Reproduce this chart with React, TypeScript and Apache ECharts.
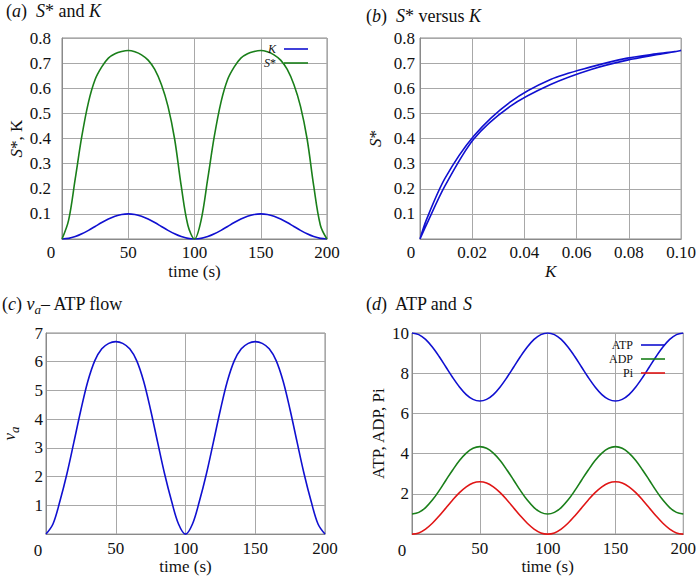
import React, { useEffect, useRef } from "react";
import * as echarts from "echarts";

// time axis (s)
const time = [0, 5, 10, 15, 20, 25, 30, 35, 40, 45, 50, 55, 60, 65, 70, 75, 80, 85, 90, 95, 100,
  105, 110, 115, 120, 125, 130, 135, 140, 145, 150, 155, 160, 165, 170, 175, 180, 185, 190, 195, 200];

// (a) K and S*
const kValues = [0, 0.0024, 0.0095, 0.0206, 0.0345, 0.05, 0.0655, 0.0794, 0.0905, 0.0976, 0.1,
  0.0976, 0.0905, 0.0794, 0.0655, 0.05, 0.0345, 0.0206, 0.0095, 0.0024, 0,
  0.0024, 0.0095, 0.0206, 0.0345, 0.05, 0.0655, 0.0794, 0.0905, 0.0976, 0.1,
  0.0976, 0.0905, 0.0794, 0.0655, 0.05, 0.0345, 0.0206, 0.0095, 0.0024, 0];
const sValues = [0, 0.075, 0.24, 0.41, 0.545, 0.635, 0.685, 0.72, 0.737, 0.746, 0.75,
  0.745, 0.733, 0.712, 0.675, 0.615, 0.528, 0.398, 0.21, 0.055, 0,
  0.075, 0.24, 0.41, 0.545, 0.635, 0.685, 0.72, 0.737, 0.746, 0.75,
  0.745, 0.733, 0.712, 0.675, 0.615, 0.528, 0.398, 0.21, 0.055, 0];

// (c) v_a
const vaValues = [0, 0.35, 1.15, 2.1, 3.2, 4.32, 5.32, 6.04, 6.45, 6.64, 6.7,
  6.64, 6.45, 6.04, 5.32, 4.32, 3.2, 2.1, 1.15, 0.35, 0,
  0.35, 1.15, 2.1, 3.2, 4.32, 5.32, 6.04, 6.45, 6.64, 6.7,
  6.64, 6.45, 6.04, 5.32, 4.32, 3.2, 2.1, 1.15, 0.35, 0];

// (d) ATP, ADP, Pi
const atpValues = [10, 9.92, 9.68, 9.3, 8.83, 8.31, 7.79, 7.32, 6.94, 6.7, 6.62,
  6.7, 6.94, 7.32, 7.79, 8.31, 8.83, 9.3, 9.68, 9.92, 10,
  9.92, 9.68, 9.3, 8.83, 8.31, 7.79, 7.32, 6.94, 6.7, 6.62,
  6.7, 6.94, 7.32, 7.79, 8.31, 8.83, 9.3, 9.68, 9.92, 10];
const adpValues = [1, 1.08, 1.32, 1.69, 2.16, 2.68, 3.19, 3.66, 4.03, 4.27, 4.35,
  4.27, 4.03, 3.66, 3.19, 2.68, 2.16, 1.69, 1.32, 1.08, 1,
  1.08, 1.32, 1.69, 2.16, 2.68, 3.19, 3.66, 4.03, 4.27, 4.35,
  4.27, 4.03, 3.66, 3.19, 2.68, 2.16, 1.69, 1.32, 1.08, 1];
const piValues = [0, 0.06, 0.25, 0.54, 0.9, 1.3, 1.7, 2.06, 2.35, 2.54, 2.6,
  2.54, 2.35, 2.06, 1.7, 1.3, 0.9, 0.54, 0.25, 0.06, 0,
  0.06, 0.25, 0.54, 0.9, 1.3, 1.7, 2.06, 2.35, 2.54, 2.6,
  2.54, 2.35, 2.06, 1.7, 1.3, 0.9, 0.54, 0.25, 0.06, 0];

const FONT = "Liberation Serif";
const INK = "#111";
const BLUE = "#1010d0";
const GREEN = "#1a7f1a";
const RED = "#e01515";
const GRID_COLOR = "#a8a8a8";
const BORDER = "#8a8a8a";
const LINE_ICON = "path://M0,0L30,0L30,2L0,2Z";

const AX = 17;
const TT = 18;
const LG = 12;
const axisRich = {
  n: { fontFamily: FONT, fontSize: AX, color: INK },
  i: { fontStyle: "italic", fontFamily: FONT, fontSize: AX, color: INK },
  sub: { fontStyle: "italic", fontFamily: FONT, fontSize: 13, color: INK, padding: [10, 0, 0, 0] },
};
const titleRich = {
  n: { fontFamily: FONT, fontSize: TT, color: INK },
  i: { fontStyle: "italic", fontFamily: FONT, fontSize: TT, color: INK },
  sub: { fontStyle: "italic", fontFamily: FONT, fontSize: 13, color: INK, padding: [10, 0, 0, 0] },
};
const legendRich = {
  n: { fontFamily: FONT, fontSize: LG, color: INK },
  i: { fontStyle: "italic", fontFamily: FONT, fontSize: LG, color: INK },
};

function xAxisCfg(grid: number, min: number, max: number, interval: number, name: string, nameGap: number, margin: number, dec: number) {
  return {
    type: "value", gridIndex: grid, min, max, interval,
    name, nameLocation: "middle", nameGap,
    nameTextStyle: { fontFamily: FONT, fontSize: AX, color: INK, rich: axisRich },
    axisLine: { show: true, lineStyle: { color: BORDER } },
    axisTick: { show: false },
    axisLabel: {
      margin, fontFamily: FONT, fontSize: AX, color: INK, rich: axisRich,
      formatter: (v: number) => (v === 0 ? "" : `{n|${v.toFixed(dec)}}`),
    },
    splitLine: { show: true, lineStyle: { color: GRID_COLOR, width: 1 } },
  };
}

function yAxisCfg(grid: number, min: number, max: number, interval: number, name: string, nameGap: number, margin: number, dec: number) {
  return {
    type: "value", gridIndex: grid, min, max, interval,
    name, nameLocation: "middle", nameGap, nameRotate: 90,
    nameTextStyle: { fontFamily: FONT, fontSize: AX, color: INK, rich: axisRich },
    axisLine: { show: true, lineStyle: { color: BORDER } },
    axisTick: { show: false },
    axisLabel: {
      margin, fontFamily: FONT, fontSize: AX, color: INK, rich: axisRich,
      formatter: (v: number) => (v === 0 ? "" : `{n|${v.toFixed(dec)}}`),
    },
    splitLine: { show: true, lineStyle: { color: GRID_COLOR, width: 1 } },
  };
}

function zip(a: number[], b: number[]) {
  return a.map((v, i) => [v, b[i]]);
}

function lineSeries(name: string, data: number[][], x: number, y: number, color: string, smooth: boolean | number = 0.35) {
  return {
    type: "line", name, data, xAxisIndex: x, yAxisIndex: y,
    smooth, symbol: "none", showSymbol: false,
    lineStyle: { color, width: 1.6 },
    itemStyle: { color },
  };
}

function titleText(x: number, y: number, text: string) {
  return {
    type: "text", left: x, top: y,
    style: { text, font: `${TT}px ${FONT}`, fill: INK, rich: titleRich },
  };
}

function originZero(cx: number, cy: number) {
  return {
    type: "text", x: cx, y: cy,
    style: { text: "0", font: `${AX}px ${FONT}`, fill: INK, align: "center", verticalAlign: "middle" },
  };
}

export default function App() {
  const ref = useRef<HTMLDivElement>(null);
  useEffect(() => {
    document.body.style.margin = "0";
    const chart = echarts.init(ref.current!, null, { renderer: "svg" });
    chart.setOption({
      animation: false,
      backgroundColor: "#fff",
      grid: [
        { left: 62, top: 38, width: 265, height: 201, show: true, borderColor: BORDER, borderWidth: 1 },
        { left: 420, top: 38, width: 266, height: 201, show: true, borderColor: BORDER, borderWidth: 1 },
        { left: 46, top: 333, width: 279, height: 202, show: true, borderColor: BORDER, borderWidth: 1 },
        { left: 412, top: 333, width: 272, height: 202, show: true, borderColor: BORDER, borderWidth: 1 },
      ],
      xAxis: [
        xAxisCfg(0, 0, 200, 50, "{n|time (s)}", 24, 5, 0),
        xAxisCfg(1, 0, 0.1, 0.02, "{i|K}", 24, 5, 2),
        xAxisCfg(2, 0, 200, 50, "{n|time (s)}", 19, 6, 0),
        xAxisCfg(3, 0, 200, 50, "{n|time (s)}", 21, 6, 0),
      ],
      yAxis: [
        yAxisCfg(0, 0, 0.8, 0.1, "{i|S}{n|*, K}", 37, 11, 1),
        yAxisCfg(1, 0, 0.8, 0.1, "{i|S}{n|*}", 36, 5, 1),
        yAxisCfg(2, 0, 7, 1, "{i|v}{sub|a}", 25, 3, 0),
        yAxisCfg(3, 0, 10, 2, "{n|ATP, ADP, Pi}", 25, 3, 0),
      ],
      legend: [
        {
          data: ["K", "S*"], orient: "vertical", align: "right", right: 386, top: 38,
          itemGap: 2, itemWidth: 30, itemHeight: 1.6, icon: LINE_ICON, selectedMode: false,
          formatter: (n: string) => (n === "K" ? "{i|K}" : "{i|S}{n|*}"),
          textStyle: { fontFamily: FONT, fontSize: LG, color: INK, rich: legendRich },
        },
        {
          data: ["ATP", "ADP", "Pi"], orient: "vertical", align: "right", right: 29, top: 334,
          itemGap: 2, itemWidth: 30, itemHeight: 1.6, icon: LINE_ICON, selectedMode: false,
          formatter: (n: string) => `{n|${n}}`,
          textStyle: { fontFamily: FONT, fontSize: LG, color: INK, rich: legendRich },
        },
      ],
      graphic: [
        titleText(6, 2, "{n|(}{i|a}{n|)  }{i|S}{n|* and }{i|K}"),
        titleText(366, 7, "{n|(}{i|b}{n|)  }{i|S}{n|* versus }{i|K}"),
        titleText(2, 295, "{n|(}{i|c}{n|) }{i|v}{sub|a}{n|– ATP flow}"),
        titleText(366, 295, "{n|(}{i|d}{n|)  ATP and }{i|S}"),
        originZero(51, 252),
        originZero(411, 252),
        originZero(38, 550),
        originZero(402, 550),
      ],
      series: [
        lineSeries("K", zip(time, kValues), 0, 0, BLUE),
        lineSeries("S*", zip(time, sValues), 0, 0, GREEN),
        lineSeries("S* vs K", zip(kValues, sValues), 1, 1, BLUE, 0.3),
        lineSeries("va", zip(time, vaValues), 2, 2, BLUE),
        lineSeries("ATP", zip(time, atpValues), 3, 3, BLUE),
        lineSeries("ADP", zip(time, adpValues), 3, 3, GREEN),
        lineSeries("Pi", zip(time, piValues), 3, 3, RED),
      ],
    });
    return () => chart.dispose();
  }, []);
  return <div ref={ref} style={{ width: 699, height: 576 }} />;
}
